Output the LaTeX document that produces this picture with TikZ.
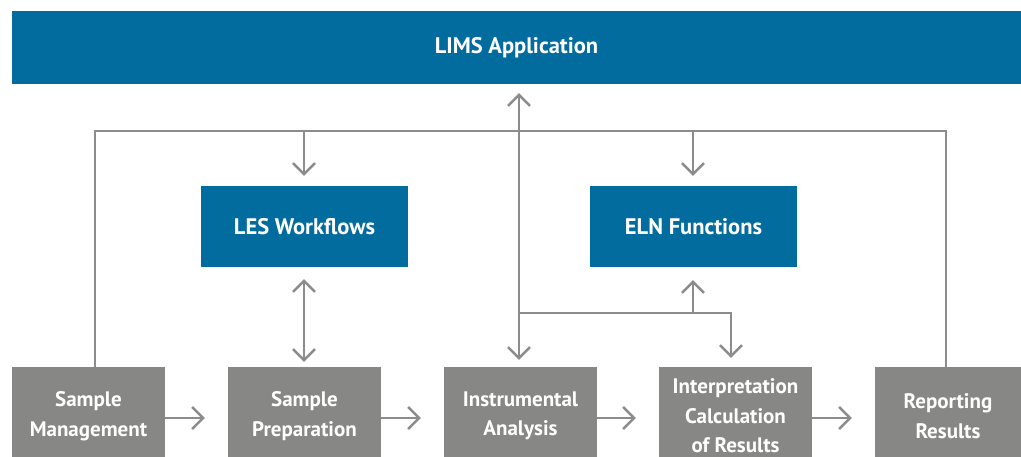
\documentclass[tikz,border=0pt]{standalone}
\usepackage{fontspec}
\setmainfont{PT Sans}
\usetikzlibrary{arrows.meta}
\definecolor{limsblue}{HTML}{026C9E}
\definecolor{boxgray}{HTML}{878786}
\definecolor{linegray}{HTML}{8C8C8C}
\tikzset{
  bluebox/.style={fill=limsblue, text=white, font=\bfseries\fontsize{22.5}{26}\selectfont, inner sep=0pt, align=center},
  graybox/.style={fill=boxgray, text=white, font=\bfseries\fontsize{21}{29.5}\selectfont, inner sep=0pt, align=center},
  conn/.style={draw=linegray, line width=2.5pt},
  tip/.style={-{Straight Barb[length=11pt,width=22pt,line width=2.5pt]}},
  dtip/.style={{Straight Barb[length=11pt,width=22pt,line width=2.5pt]}-{Straight Barb[length=11pt,width=22pt,line width=2.5pt]}},
}
\begin{document}
\begin{tikzpicture}[x=1pt,y=-1pt]
\useasboundingbox (0,0) rectangle (1021,457);
% boxes
\node[bluebox, minimum width=1009pt, minimum height=73pt] (lims) at (516.5,47.5) {LIMS Application};
\node[bluebox, minimum width=207pt, minimum height=81pt] (les) at (304.5,226.5) {LES Workflows};
\node[bluebox, minimum width=207pt, minimum height=81pt] (eln) at (693.5,226.5) {ELN Functions};
\node[graybox, minimum width=153pt, minimum height=98pt] (b1) at (88.5,416) {Sample\\Management};
\node[graybox, minimum width=153pt, minimum height=98pt] (b2) at (304.5,416) {Sample\\Preparation};
\node[graybox, minimum width=153pt, minimum height=98pt] (b3) at (520.5,416) {Instrumental\\Analysis};
\node[graybox, minimum width=153pt, minimum height=98pt] (b4) at (735.5,416) {Interpretation\\Calculation\\of Results};
\node[graybox, minimum width=146pt, minimum height=98pt] (b5) at (948,416) {Reporting\\Results};
% coordinates
\coordinate (loopL) at (95,131);
\coordinate (loopR) at (946,131);
\coordinate (lesin) at (304,131);
\coordinate (elnin) at (693,131);
\coordinate (junc) at (519,313);
\coordinate (jright) at (731,313);
\coordinate (elnup) at (693,313);
% feedback loop
\draw[conn] (b1.north -| loopL) -- (loopL) -- (loopR) -- (b5.north -| loopR);
\draw[conn, tip, shorten >=10pt] (lesin) -- (les.north -| lesin);
\draw[conn, tip, shorten >=10pt] (elnin) -- (eln.north -| elnin);
% LES double arrow
\draw[conn, dtip, shorten <=12pt, shorten >=5pt] (les.south -| lesin) -- (b2.north -| lesin);
% central line
\draw[conn, dtip, shorten <=9pt, shorten >=7pt] (lims.south -| junc) -- (b3.north -| junc);
\draw[conn, tip, shorten >=9pt] (junc) -- (jright) -- (b4.north -| jright);
\draw[conn, tip, shorten >=13pt] (elnup) -- (eln.south -| elnup);
% flow arrows
\draw[conn, tip, shorten >=23pt] (b1.east |- 0,418) -- (b2.west |- 0,418);
\draw[conn, tip, shorten >=23pt] (b2.east |- 0,418) -- (b3.west |- 0,418);
\draw[conn, tip, shorten >=23pt] (b3.east |- 0,418) -- (b4.west |- 0,418);
\draw[conn, tip, shorten >=23pt] (b4.east |- 0,418) -- (b5.west |- 0,418);
\end{tikzpicture}
\end{document}
